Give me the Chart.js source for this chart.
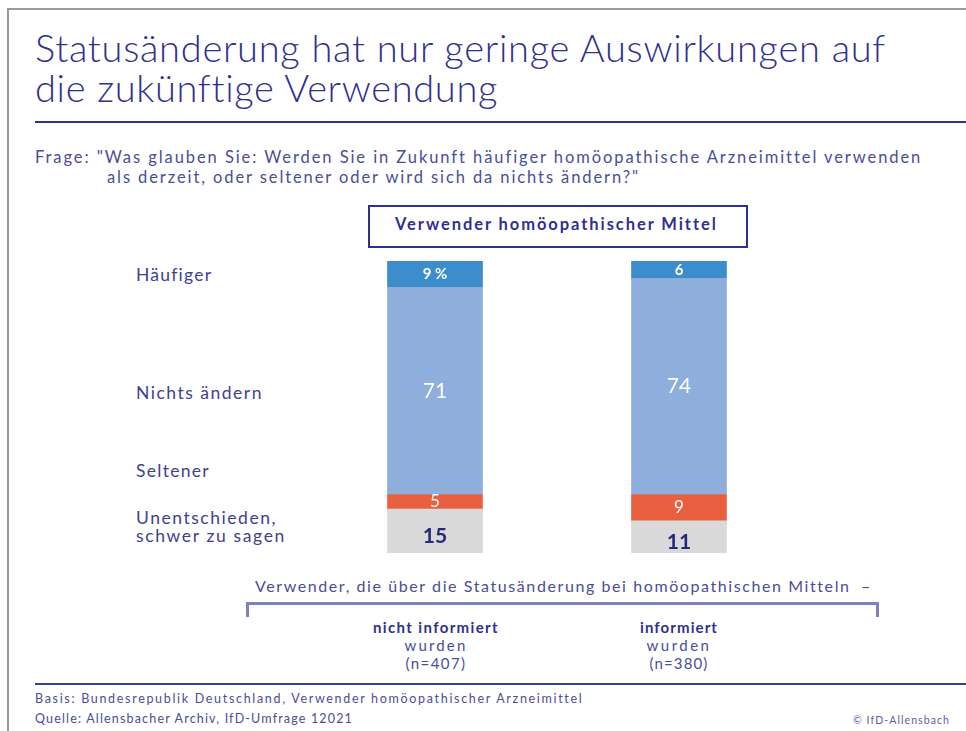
<!DOCTYPE html>
<html>
<head>
<meta charset="utf-8">
<script src="https://cdn.jsdelivr.net/npm/chart.js@4/dist/chart.umd.min.js"></script>
<style>
  html, body { margin:0; padding:0; background:#fff; }
  body { width:966px; height:731px; position:relative; overflow:hidden; font-family:"Lato","Noto Sans",sans-serif; color:#3e4193; }
  .abs { position:absolute; white-space:nowrap; }
  #frameTop { position:absolute; left:8px; top:8px; width:958px; height:0; border-top:2px solid #9a9a9a; }
  #frameLeft { position:absolute; left:7px; top:8px; width:0; height:723px; border-left:2px solid #9a9a9a; }
  .title { font-size:38px; line-height:42px; color:#2f3190; font-weight:300; }
  #rule1 { position:absolute; left:35px; top:121px; width:931px; height:2px; background:#2f3190; }
  .q { font-size:16.5px; color:#4a4d9a; }
  #box { position:absolute; left:368px; top:205px; width:376px; height:39px; border:2px solid #2f3190; }
  #boxText { font-weight:700; font-size:16.5px; color:#2f3190; top:214px; left:395px; }
  .cat { font-size:17.5px; color:#3e4193; line-height:18px; }
  #chartWrap { position:absolute; left:313px; top:261px; width:488px; height:292px; }
  .sub { font-size:16px; color:#4a4d9a; }
  #bracket { position:absolute; left:246px; top:602px; width:627px; height:12px; border:3px solid #7f80c0; border-bottom:none; }
  .grp { font-size:15px; line-height:17.5px; color:#4a4d9a; transform:translateX(-50%); }
  .grp.b { color:#2f3190; font-weight:700; }
  #rule2 { position:absolute; left:35px; top:683px; width:931px; height:2px; background:#3b3e96; }
  .foot { font-size:12.5px; color:#4a4d9a; }
  .copy { font-size:10.5px; color:#5a5da4; }
</style>
</head>
<body>
<div id="frameTop"></div>
<div id="frameLeft"></div>
<div class="abs title fit" data-w="851" style="left:35px; top:26px;">Statusänderung hat nur geringe Auswirkungen auf</div>
<div class="abs title fit" data-w="462" style="left:35px; top:66px;">die zukünftige Verwendung</div>
<div id="rule1"></div>
<div class="abs q fit" data-w="886" style="left:35px; top:147px;">Frage: "Was glauben Sie: Werden Sie in Zukunft häufiger homöopathische Arzneimittel verwenden</div>
<div class="abs q fit" data-w="533" style="left:107px; top:167px;">als derzeit, oder seltener oder wird sich da nichts ändern?"</div>
<div id="box"></div>
<div id="boxText" class="abs fit" data-w="322">Verwender homöopathischer Mittel</div>
<div id="catLabels"></div>
<div id="chartWrap"><canvas id="c"></canvas></div>
<div class="abs sub fit" data-w="595" style="left:255px; top:576px;">Verwender, die über die Statusänderung bei homöopathischen Mitteln</div>
<div class="abs sub" style="left:861px; top:576px;">–</div>
<div id="bracket"></div>
<div id="groups"></div>
<div id="rule2"></div>
<div class="abs foot fit" data-w="548" style="left:35px; top:691px;">Basis: Bundesrepublik Deutschland, Verwender homöopathischer Arzneimittel</div>
<div class="abs foot fit" data-w="318" style="left:35px; top:711px;">Quelle: Allensbacher Archiv, IfD-Umfrage 12021</div>
<div class="abs copy fit" data-w="97" style="left:853px; top:714px;">© IfD-Allensbach</div>

<script>
// ---- Data ----
const categories = ["nicht informiert", "informiert"];
const groupSuffix = ["wurden", "wurden"];
const sampleSizes = ["(n=407)", "(n=380)"];
const seriesNames = ["Häufiger", "Nichts ändern", "Seltener", ["Unentschieden,", "schwer zu sagen"]];
const haeufiger = [9, 6];
const nichtsAendern = [71, 74];
const seltener = [5, 9];
const unentschieden = [15, 11];

// ---- Styles ----
const colors = ["#3d8ccb", "#8eaedb", "#e8603f", "#d9d9d9"];
const labelColors = ["#ffffff", "#ffffff", "#ffffff", "#25297a"];
const labelFonts = ["700 15px Lato, sans-serif", "400 21px Lato, sans-serif", "400 17px Lato, sans-serif", "700 21px Lato, sans-serif"];
const labelYOffset = [0, 0, 0, 5];
const catLabelTops = [266, 384, 462, 509];
const catLabelWidths = [76, 127, 74, [141, 150]];
const grpCenters = [436, 679];
const grpWidths = [[126, 63, 61], [78, 65, 59]];

// category labels (left)
const catDiv = document.getElementById('catLabels');
seriesNames.forEach((n, i) => {
  const lines = Array.isArray(n) ? n : [n];
  const ws = Array.isArray(catLabelWidths[i]) ? catLabelWidths[i] : [catLabelWidths[i]];
  lines.forEach((t, k) => {
    const d = document.createElement('div');
    d.className = 'abs cat fit';
    d.style.left = '136px';
    d.style.top = (catLabelTops[i] + k * 18) + 'px';
    d.dataset.w = ws[k];
    d.textContent = t;
    catDiv.appendChild(d);
  });
});

// group labels (bottom)
const gDiv = document.getElementById('groups');
categories.forEach((c, i) => {
  [c, groupSuffix[i], sampleSizes[i]].forEach((t, k) => {
    const d = document.createElement('div');
    d.className = 'abs grp fit' + (k === 0 ? ' b' : '');
    d.style.left = grpCenters[i] + 'px';
    d.style.top = (619 + k * 18) + 'px';
    d.dataset.w = grpWidths[i][k];
    d.textContent = t;
    gDiv.appendChild(d);
  });
});

// fit text widths with letter spacing
document.querySelectorAll('.fit').forEach(el => {
  el.style.letterSpacing = '0px';
  const w = el.getBoundingClientRect().width;
  const n = el.textContent.length;
  const target = parseFloat(el.dataset.w);
  el.style.letterSpacing = ((target - w) / n) + 'px';
});

// datasets: bottom to top stacking order
const seriesValues = [haeufiger, nichtsAendern, seltener, unentschieden];
const order = [3, 2, 1, 0];
const datasets = order.map(i => ({
  label: Array.isArray(seriesNames[i]) ? seriesNames[i].join(' ') : seriesNames[i],
  data: seriesValues[i],
  backgroundColor: colors[i],
  borderWidth: 0,
  barThickness: 95,
  _idx: i
}));

const valueLabels = {
  id: 'valueLabels',
  afterDatasetsDraw(chart) {
    const ctx = chart.ctx;
    ctx.save();
    ctx.textAlign = 'center';
    ctx.textBaseline = 'middle';
    chart.data.datasets.forEach((ds, di) => {
      const meta = chart.getDatasetMeta(di);
      const si = ds._idx;
      meta.data.forEach((bar, j) => {
        const v = ds.data[j];
        const yc = (bar.y + bar.base) / 2 + labelYOffset[si];
        let txt = String(v);
        if (si === 0 && j === 0) txt = v + ' %';
        ctx.fillStyle = labelColors[si];
        ctx.font = labelFonts[si];
        ctx.fillText(txt, bar.x, yc);
      });
    });
    ctx.restore();
  }
};

new Chart(document.getElementById('c'), {
  type: 'bar',
  data: { labels: categories, datasets },
  options: {
    responsive: true,
    maintainAspectRatio: false,
    animation: false,
    layout: { padding: 0 },
    plugins: { legend: { display: false }, tooltip: { enabled: false } },
    scales: {
      x: { stacked: true, display: false },
      y: { stacked: true, display: false, min: 0, max: 100 }
    }
  },
  plugins: [valueLabels]
});
</script>
</body>
</html>
